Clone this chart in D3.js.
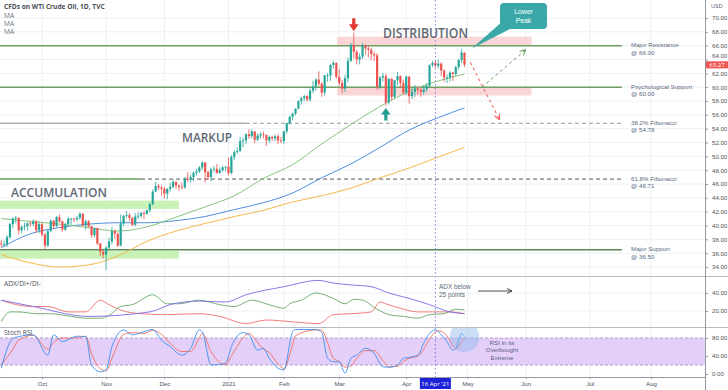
<!DOCTYPE html>
<html><head><meta charset="utf-8">
<script src="https://cdn.jsdelivr.net/npm/d3@7"></script>
<style>
body{margin:0;background:#fff}
svg{display:block;font-family:"Open Sans",Lato,sans-serif}
.sm{font-family:"Liberation Sans",Arial,sans-serif}
</style>
</head><body>
<svg id="c" width="728" height="390"></svg>
<script>
// ---------- DATA ----------
const holidays = ["2020-11-26","2020-12-25","2021-01-01","2021-01-18","2021-02-15","2021-04-02","2021-05-31","2021-07-05"];
const opens = [37.4,37.3,37.3,38.3,40.2,41.0,41.1,39.3,39.8,39.9,40.3,40.2,40.6,39.3,
 40.2,38.7,37.1,39.2,40.7,39.9,41.2,40.6,39.4,40.2,41.0,41.0,40.9,41.1,41.7,40.0,40.6,39.9,38.6,39.6,37.4,36.2,
 35.8,36.8,37.7,39.2,38.8,37.1,40.3,41.4,41.5,41.1,40.1,41.3,41.4,41.8,41.7,42.2,43.1,44.9,45.7,45.5,
 45.3,44.6,45.3,45.6,46.3,45.8,45.6,45.5,46.8,46.6,47.0,47.6,47.8,48.4,49.1,47.7,47.0,48.1,48.2,47.6,48.0,48.4,
 48.5,47.6,49.9,50.6,50.8,52.2,52.3,53.2,52.9,53.6,52.4,53.0,53.2,53.1,52.3,52.8,52.6,52.9,52.3,
 52.2,53.6,54.8,55.7,56.2,56.9,58.0,58.4,58.7,58.2,59.5,60.1,61.1,60.5,59.2,61.7,61.7,63.2,63.5,
 61.5,60.6,59.8,61.3,63.8,66.1,65.1,64.0,64.4,66.0,65.6,65.4,64.8,64.6,60.0,61.4,61.6,57.8,61.2,58.6,61.0,61.6,60.6,
 59.2,61.5,58.7,59.3,59.8,59.6,59.3,59.7,60.2,63.2,63.5,63.1,63.4,62.4,61.4,61.4,62.1,61.9,62.9,63.9,65.0];
const highs = [37.9,37.8,38.6,40.4,41.2,41.4,41.2,40.0,40.4,40.5,40.6,40.9,40.8,40.6,
 40.4,38.9,39.4,40.9,40.8,41.4,41.6,40.7,40.4,41.2,41.1,41.1,41.4,41.9,41.8,40.9,40.8,39.9,39.7,39.7,37.5,36.4,
 37.0,38.2,39.8,39.4,39.0,41.6,41.5,42.1,41.8,41.2,41.8,41.9,42.0,42.1,42.3,43.3,45.2,46.3,46.0,45.8,
 45.6,45.4,46.2,46.6,46.4,45.9,46.2,47.0,47.7,47.3,47.8,48.2,48.6,49.3,49.2,47.9,48.4,48.6,48.9,48.4,48.6,48.6,
 49.8,50.2,50.9,51.3,52.8,52.7,53.3,53.9,53.9,53.6,53.3,53.5,53.6,53.1,53.0,53.0,53.1,53.2,52.8,
 53.7,54.9,55.9,56.3,56.9,58.1,58.6,58.9,58.9,59.8,60.9,61.3,62.3,60.7,61.8,62.0,63.3,63.8,63.6,
 62.6,61.1,61.8,64.3,66.4,67.9,65.4,64.9,66.4,66.2,66.0,65.7,65.1,64.9,61.6,62.1,61.9,61.3,61.3,61.0,62.2,61.7,61.1,
 61.7,61.6,59.9,60.3,60.1,60.0,60.3,60.6,63.3,63.8,63.8,64.0,63.6,62.6,61.8,62.3,62.2,63.1,64.1,65.5,65.0];
const lows = [36.9,36.9,36.9,38.1,39.6,40.3,38.7,38.9,39.3,39.3,39.8,39.9,38.9,38.9,
 38.4,36.6,36.9,39.0,39.5,39.8,40.4,39.1,39.2,40.0,40.1,40.5,40.6,40.8,39.9,39.4,39.7,38.2,38.3,37.2,35.6,35.2,
 33.6,36.6,37.3,38.1,36.9,37.0,39.9,41.1,40.6,39.9,39.9,40.9,41.1,40.9,41.5,41.9,42.9,44.8,45.1,44.3,
 43.9,43.8,44.9,45.4,45.3,45.0,45.2,45.3,46.3,46.2,46.4,47.2,47.6,48.0,46.2,46.6,46.4,47.7,47.5,47.5,47.8,47.8,
 47.2,47.4,49.5,50.4,50.6,51.3,51.8,52.5,52.6,51.9,52.2,52.6,52.6,51.5,51.9,52.2,52.2,51.8,51.9,
 51.8,53.3,54.6,55.2,55.9,56.8,57.5,58.0,57.9,57.9,59.1,59.5,60.2,58.6,58.8,60.8,60.9,62.7,61.2,
 60.2,59.1,59.3,60.7,63.6,64.1,63.3,63.3,64.1,64.7,64.3,63.9,63.8,59.6,59.7,60.8,57.3,57.5,58.1,58.3,60.3,59.9,58.9,
 58.9,57.6,58.3,58.6,58.9,58.6,58.9,59.3,60.0,62.9,62.8,62.7,61.6,60.8,60.6,60.8,60.9,61.6,62.5,63.5,62.9];
const closes = [37.3,37.3,38.3,40.2,41.0,41.1,39.3,39.8,39.9,40.3,40.2,40.6,39.3,40.2,
 38.7,37.1,39.2,40.7,39.9,41.2,40.6,39.4,40.2,41.0,41.0,40.9,41.1,41.7,40.0,40.6,39.9,38.6,39.6,37.4,36.2,35.8,
 36.8,37.7,39.2,38.8,37.1,40.3,41.4,41.5,41.1,40.1,41.3,41.4,41.8,41.7,42.2,43.1,44.9,45.7,45.5,45.3,
 44.6,45.3,45.6,46.3,45.8,45.6,45.5,46.8,46.6,47.0,47.6,47.8,48.4,49.1,47.7,47.0,48.1,48.2,47.6,48.0,48.4,48.5,
 47.6,49.9,50.6,50.8,52.2,52.3,53.2,52.9,53.6,52.4,53.0,53.2,53.1,52.3,52.8,52.6,52.9,52.3,52.2,
 53.6,54.8,55.7,56.2,56.9,58.0,58.4,58.7,58.2,59.5,60.1,61.1,60.5,59.2,61.7,61.7,63.2,63.5,61.5,
 60.6,59.8,61.3,63.8,66.1,65.1,64.0,64.4,66.0,65.6,65.4,64.8,64.6,60.0,61.4,61.6,57.8,61.2,58.6,61.0,61.6,60.6,59.2,
 61.5,58.7,59.3,59.8,59.6,59.3,59.7,60.2,63.2,63.5,63.1,63.4,62.4,61.4,61.4,62.1,61.9,62.9,63.9,65.0,63.27];

// moving averages read at bar indices
const maIdx   = [0,10,20,30,40,50,60,70,80,90,100,110,120,130,140,150,159];
const maFast  = [41.0,40.6,40.2,39.7,39.2,39.8,41.2,42.7,44.3,46.8,48.8,51.8,54.6,57.2,59.4,60.9,61.9];
const maMid   = [36.8,38.8,39.7,40.2,40.4,40.4,40.7,41.3,42.3,43.3,44.7,46.9,48.9,51.3,53.8,55.6,57.0];
const maSlow  = [35.8,34.6,34.0,34.3,35.6,37.7,39.2,40.3,41.3,42.2,43.4,44.3,45.4,46.9,48.3,49.9,51.3];

// ADX / DI+ / DI- ([bar index, value])
const adx = [[0,32],[11,25],[30,14],[51,19],[59,28],[68,31],[77,30],[84,38],[97,47],[109,54],[114,51],[120,49],[127,47],[133,40],[140,34],[147,27],[154,19],[159,17]];
const diPlus = [[0,8],[3,19],[6,19],[12,17],[17,17],[24,14],[29,12],[34,12],[37,15],[41,25],[45,27],[52,38],[57,28],[61,28],[68,32],[75,27],[80,25],[86,32],[92,27],[97,23],[99,28],[103,32],[108,40],[114,34],[118,28],[121,33],[124,32],[129,22],[133,16],[138,14],[143,12],[147,16],[152,17],[156,22],[159,21]];
const diMinus = [[0,32],[4,28],[11,25],[16,25],[23,19],[29,19],[34,32],[37,27],[41,21],[48,17],[57,16],[68,17],[75,14],[84,6],[91,10],[100,8],[109,6],[114,16],[120,17],[127,19],[130,30],[132,28],[137,23],[143,19],[148,19],[154,19],[159,17]];

// Stoch RSI
const stIdx = [0,4,6,11,16,18,21,26,29,31,34,36,38,42,45,49,52,55,58,62,65,68,69,72,77,79,83,85,88,90,92,95,97,100,101,108,110,112,114,116,118,120,122,125,128,131,133,136,138,140,143,145,147,149,150,153,155,156,158,159];
const stK = [13,79,83,87,42,87,72,84,83,20,5,9,61,98,87,94,99,75,61,42,57,98,94,20,24,61,92,87,53,57,35,13,9,94,99,99,92,35,27,27,2,35,42,57,46,16,15,20,35,37,42,68,90,98,94,72,53,57,90,83];
const stD = [20,55,75,86,55,70,80,80,84,45,12,7,35,88,92,90,97,88,68,50,50,80,90,50,20,40,80,90,70,55,48,22,12,65,85,98,97,70,35,28,15,18,35,52,52,30,16,17,28,35,40,55,78,93,96,85,62,56,72,80];

const tickMonths = ["2020-10","2020-11","2020-12","2021-01","2021-02","2021-03","2021-04","2021-05","2021-06","2021-07","2021-08"];
const tickLabels = ["Oct","Nov","Dec","2021","Feb","Mar","Apr","May","Jun","Jul","Aug"];
const priceTicks = d3.range(34, 70.1, 2);
const levels = [66.00, 60.00, 54.78, 46.71, 36.50];
const levelNames = ["Major Resistance","Psychological Support","38.2% Fibonacci","61.8% Fibonacci","Major Support"];

// ---------- SETUP ----------
const svg = d3.select("#c");
const AX = 705;
const hol = new Set(holidays);
const fmt = d3.timeFormat("%Y-%m-%d");
const days = d3.timeDay.range(new Date(2020,8,11), new Date(2021,7,31))
  .filter(d => d.getDay()>0 && d.getDay()<6 && !hol.has(fmt(d)));
const monthIdx = tickMonths.map(m => days.findIndex(d => d3.timeFormat("%Y-%m")(d) === m));
const aprIdx = days.findIndex(d => fmt(d) === "2021-04-16");

const x = d3.scaleLinear().domain([monthIdx[0], monthIdx[10]]).range([42, 651]);
const yP = d3.scaleLinear().domain([34,70]).range([267,18]);
const yA = d3.scaleLinear().domain([20,40]).range([311,293]);
const yS = d3.scaleLinear().domain([0,100]).range([374,329]);

const defs = svg.append("defs");
defs.append("clipPath").attr("id","cm").append("rect").attr("x",0).attr("y",0).attr("width",AX).attr("height",276);
defs.append("clipPath").attr("id","ca").append("rect").attr("x",0).attr("y",277).attr("width",AX).attr("height",50);
defs.append("clipPath").attr("id","cs").append("rect").attr("x",0).attr("y",328).attr("width",AX).attr("height",49);
[["arR","#ef5350"],["arG","#5fa055"],["arK","#333"]].forEach(([id,c])=>{
  defs.append("marker").attr("id",id).attr("viewBox","0 0 10 10").attr("refX",9).attr("refY",5)
   .attr("markerWidth",7).attr("markerHeight",7).attr("orient","auto-start-reverse")
   .append("path").attr("d","M1,1 L9,5 L1,9").attr("fill","none").attr("stroke",c).attr("stroke-width",1.4);
});

// grid
const grid = svg.append("g");
monthIdx.forEach(i => grid.append("line").attr("x1",x(i)).attr("x2",x(i)).attr("y1",0).attr("y2",377).attr("stroke","#eef0f4"));
priceTicks.forEach(p => grid.append("line").attr("x1",0).attr("x2",AX).attr("y1",yP(p)).attr("y2",yP(p)).attr("stroke","#eef0f4"));
[20,40].forEach(v => grid.append("line").attr("x1",0).attr("x2",AX).attr("y1",yA(v)).attr("y2",yA(v)).attr("stroke","#eef0f4"));

// ---------- MAIN PANE ----------
const main = svg.append("g").attr("clip-path","url(#cm)");
const zones = [
  {i0:0, i1:61, p0:42.4, p1:43.6, c:"#c9f3b6"},
  {i0:0, i1:61, p0:35.2, p1:36.3, c:"#c9f3b6"},
  {i0:116, i1:182, p0:66.0, p1:67.3, c:"#fcd6d6"},
  {i0:116, i1:182, p0:58.8, p1:60.0, c:"#fcd6d6"}
];
zones.forEach(z => main.append("rect").attr("x",x(z.i0)-2).attr("width",x(z.i1)-x(z.i0)+2)
  .attr("y",yP(z.p1)).attr("height",yP(z.p0)-yP(z.p1)).attr("fill",z.c));

// level lines
const lvEnd = 213;
const solidTo = [lvEnd, lvEnd, 84, 48, lvEnd];
const solidCol = ["#6e9e60","#6e9e60","#a9b5a4","#6e9e60","#5a8a50"];
const dashCol = [null,null,"#9a9a9a","#555",null];
levels.forEach((lv,k)=>{
  main.append("line").attr("x1",0).attr("x2",x(solidTo[k])).attr("y1",yP(lv)).attr("y2",yP(lv))
    .attr("stroke",solidCol[k]).attr("stroke-width",1.5);
  if (dashCol[k]) main.append("line").attr("x1",x(solidTo[k])).attr("x2",x(lvEnd)).attr("y1",yP(lv)).attr("y2",yP(lv))
    .attr("stroke",dashCol[k]).attr("stroke-width",1).attr("stroke-dasharray","4,3");
});

// moving averages
const maLine = d3.line().x((d,i)=>x(maIdx[i])).y(d=>yP(d)).curve(d3.curveMonotoneX);
[[maSlow,"#f5b84a"],[maMid,"#4f8fe0"],[maFast,"#86c47e"]].forEach(([arr,c])=>
  main.append("path").attr("d",maLine(arr)).attr("fill","none").attr("stroke",c).attr("stroke-width",1));

// candles
const cg = main.append("g");
closes.forEach((c,i)=>{
  const o = opens[i], up = c >= o, col = up ? "#26a69a" : "#ef5350", xc = x(i);
  cg.append("line").attr("x1",xc).attr("x2",xc).attr("y1",yP(highs[i])).attr("y2",yP(lows[i])).attr("stroke",col).attr("stroke-width",0.8);
  const yt = yP(Math.max(o,c)), yb = yP(Math.min(o,c));
  cg.append("rect").attr("x",xc-1.1).attr("width",2.2).attr("y",yt).attr("height",Math.max(0.8,yb-yt)).attr("fill",col);
});

// projection arrows
main.append("line").attr("x1",x(161)).attr("y1",yP(63.6)).attr("x2",x(171)).attr("y2",yP(55.3))
  .attr("stroke","#ef5350").attr("stroke-width",1).attr("stroke-dasharray","3,3").attr("marker-end","url(#arR)");
main.append("line").attr("x1",x(165)).attr("y1",yP(60.0)).attr("x2",x(180)).attr("y2",yP(65.4))
  .attr("stroke","#5fa055").attr("stroke-width",1).attr("stroke-dasharray","3,3").attr("marker-end","url(#arG)");

// red / green arrows
const ra = {x:x(121), y:yP(68.1)};
main.append("path").attr("d",`M${ra.x-1.6},${ra.y-13}h3.2v6h3.2l-4.8,7l-4.8,-7h3.2z`).attr("fill","#e53935");
const ga = {x:x(132), y:yP(57.0)};
main.append("path").attr("d",`M${ga.x},${ga.y}l4.8,6.5h-3.2v6h-3.2v-6h-3.2z`).attr("fill","#22a08f");

// big phase labels
const big = (t,x0,x1,base,fs) => main.append("text").text(t).attr("x",x0).attr("y",base)
  .attr("font-size",fs).attr("font-weight",600).attr("fill","#5f6873")
  .attr("textLength",x1-x0).attr("lengthAdjust","spacingAndGlyphs");
big("DISTRIBUTION",383,468,37.5,15);
big("ACCUMULATION",11,107,197,13);
big("MARKUP",182,232,142,13);

// Lower Peak callout
const tip = {x:x(161.5), y:yP(65.6)};
main.append("path").attr("d",`M${tip.x},${tip.y}L503,21L512,28Z`).attr("fill","#3aa8a8");
main.append("rect").attr("x",500).attr("y",3).attr("width",47).attr("height",26).attr("rx",4).attr("fill","#3aa8a8");
main.append("text").attr("class","sm").attr("x",523.5).attr("y",13.5).attr("text-anchor","middle").attr("font-size",6.8).attr("fill","#fff").text("Lower");
main.append("text").attr("class","sm").attr("x",523.5).attr("y",22.5).attr("text-anchor","middle").attr("font-size",6.8).attr("fill","#fff").text("Peak");

// level labels
levels.forEach((lv,k)=>{
  svg.append("text").attr("class","sm").attr("x",631).attr("y",yP(lv)+1.6).attr("font-size",6.2).attr("fill","#5a6a7e").text(levelNames[k]);
  svg.append("text").attr("class","sm").attr("x",631).attr("y",yP(lv)+9).attr("font-size",6.2).attr("fill","#5a6a7e").text("@ "+lv.toFixed(2));
});

// legend
svg.append("text").attr("x",4).attr("y",9).attr("font-size",6.6).attr("font-weight",700).attr("fill","#4a4e59").text("CFDs on WTI Crude Oil, 1D, TVC");
["MA","MA","MA"].forEach((t,k)=>svg.append("text").attr("x",4).attr("y",17.5+k*8).attr("font-size",6.6).attr("fill","#6b6f7a").text(t));

// ---------- ADX PANE ----------
const ap = svg.append("g").attr("clip-path","url(#ca)");
const pl = (ys) => d3.line().x(d=>x(d[0])).y(d=>ys(d[1])).curve(d3.curveMonotoneX);
[[diMinus,"#ef6f6c"],[diPlus,"#66a865"],[adx,"#7a6ae6"]].forEach(([arr,c])=>
  ap.append("path").attr("d",pl(yA)(arr)).attr("fill","none").attr("stroke",c).attr("stroke-width",0.9));
svg.append("text").attr("x",4).attr("y",286).attr("font-size",6.6).attr("fill","#4a4e59").text("ADX/DI+/DI-");
svg.append("text").attr("class","sm").attr("x",439).attr("y",289).attr("font-size",6.4).attr("fill","#5a6a7e").text("ADX below");
svg.append("text").attr("class","sm").attr("x",439).attr("y",296.6).attr("font-size",6.4).attr("fill","#5a6a7e").text("25 points");
svg.append("line").attr("x1",478).attr("x2",512).attr("y1",291).attr("y2",291).attr("stroke","#333").attr("stroke-width",0.9).attr("marker-end","url(#arK)");

// ---------- STOCH PANE ----------
const sp = svg.append("g").attr("clip-path","url(#cs)");
sp.append("rect").attr("x",0).attr("width",AX).attr("y",yS(80)).attr("height",yS(20)-yS(80)).attr("fill","#e4cff8");
[80,20].forEach(v=>sp.append("line").attr("x1",0).attr("x2",AX).attr("y1",yS(v)).attr("y2",yS(v))
  .attr("stroke","#a58cc4").attr("stroke-dasharray","3,2").attr("stroke-width",0.8));
const sl = d3.line().x((d,i)=>x(stIdx[i])).y(d=>yS(d)).curve(d3.curveMonotoneX);
sp.append("path").attr("d",sl(stD)).attr("fill","none").attr("stroke","#f26d60").attr("stroke-width",0.9);
sp.append("path").attr("d",sl(stK)).attr("fill","none").attr("stroke","#3d8ff0").attr("stroke-width",0.9);
sp.append("circle").attr("cx",x(159)).attr("cy",yS(82)).attr("r",15).attr("fill","#8fb8ee").attr("opacity",0.45);
svg.append("text").attr("x",4).attr("y",335).attr("font-size",6.6).attr("fill","#4a4e59").text("Stoch RSI");
["RSI in its","Overbought","Extreme"].forEach((t,k)=>svg.append("text").attr("class","sm").attr("x",502).attr("y",345+k*7.3)
  .attr("font-size",6.2).attr("fill","#5b5a86").attr("text-anchor","middle").text(t));

// 16 Apr vertical dotted
svg.append("line").attr("x1",x(aprIdx)).attr("x2",x(aprIdx)).attr("y1",0).attr("y2",377)
  .attr("stroke","#5b63d8").attr("stroke-width",0.8).attr("stroke-dasharray","1.5,2.5");

// pane separators
[276.5,327.5].forEach(y=>svg.append("line").attr("x1",0).attr("x2",728).attr("y1",y).attr("y2",y).attr("stroke","#b7bac1"));

// ---------- AXES ----------
function styleAxis(g){
  g.selectAll("text").attr("font-size",6.1).attr("fill","#50535e");
  g.selectAll(".tick line").attr("stroke","#9598a1");
  g.select(".domain").attr("stroke","#9598a1");
}
const lp = closes[closes.length-1];
svg.append("g").attr("transform",`translate(${AX},0)`)
  .call(d3.axisRight(yP).tickValues(priceTicks).tickFormat(d3.format(".2f")).tickSize(3).tickPadding(4))
  .call(styleAxis)
  .call(g=>g.selectAll(".tick text").filter(d=>Math.abs(yP(d)-yP(lp))<7).attr("dy","-0.25em"))
  .select(".domain").attr("d","M0.5,0V390");
svg.append("g").attr("transform",`translate(${AX},0)`)
  .call(d3.axisRight(yA).tickValues([20,40]).tickFormat(d3.format(".2f")).tickSize(3).tickPadding(4))
  .call(styleAxis).select(".domain").remove();
svg.append("g").attr("transform",`translate(${AX},0)`)
  .call(d3.axisRight(yS).tickValues([0,40,80]).tickFormat(d3.format(".2f")).tickSize(3).tickPadding(4))
  .call(styleAxis).select(".domain").remove();
svg.append("g").attr("transform","translate(0,377)")
  .call(d3.axisBottom(x).tickValues(monthIdx).tickFormat((d,i)=>tickLabels[i]).tickSize(2).tickPadding(3))
  .call(styleAxis).select(".domain").attr("d","M0,0.5H"+AX);
svg.append("text").attr("x",711).attr("y",8).attr("font-size",5.8).attr("fill","#50535e").text("USD");

// 16 Apr label
const ax0 = x(aprIdx);
svg.append("rect").attr("x",ax0-15.5).attr("y",378).attr("width",31).attr("height",11).attr("fill","#1e22d9");
svg.append("text").attr("x",ax0).attr("y",386).attr("text-anchor","middle").attr("font-size",6).attr("fill","#fff").text("16 Apr '21");

// last price label
svg.append("rect").attr("x",AX+1).attr("y",yP(lp)-3.2).attr("width",22).attr("height",7).attr("fill","#ef5350");
svg.append("text").attr("x",AX+12).attr("y",yP(lp)+2.1).attr("text-anchor","middle").attr("font-size",6).attr("fill","#fff").text(lp.toFixed(2));
</script>
</body></html>
